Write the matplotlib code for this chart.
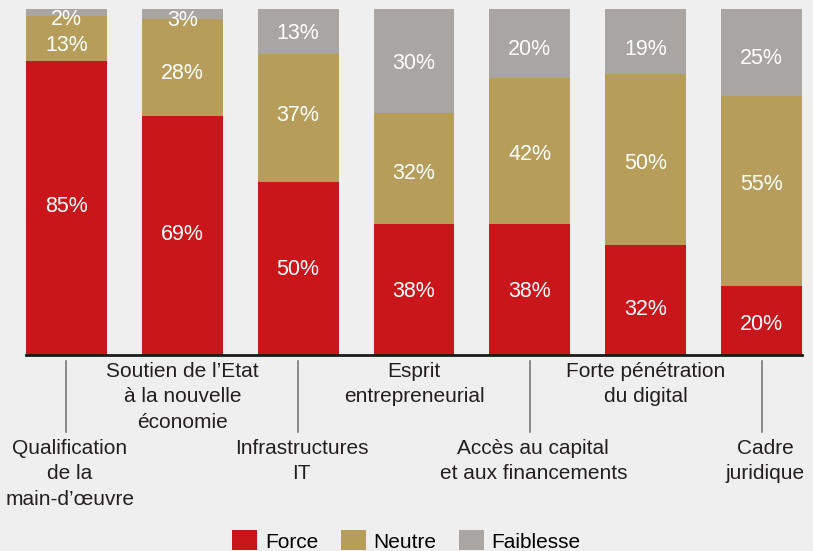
import numpy as np
import matplotlib.pyplot as plt
from matplotlib.patches import Patch

plt.rcParams['font.family'] = ['Liberation Sans', 'DejaVu Sans']

categories = ["Qualification\nde la\nmain-d\u2019\u0153uvre",
              "Soutien de l\u2019Etat\n\u00e0 la nouvelle\n\u00e9conomie",
              "Infrastructures\nIT",
              "Esprit\nentrepreneurial",
              "Acc\u00e8s au capital\net aux financements",
              "Forte p\u00e9n\u00e9tration\ndu digital",
              "Cadre\njuridique"]
force = [85, 69, 50, 38, 38, 32, 20]
neutre = [13, 28, 37, 32, 42, 50, 55]
faiblesse = [2, 3, 13, 30, 20, 19, 25]

series = [("Force", force, "#c8161a"),
          ("Neutre", neutre, "#b69e5a"),
          ("Faiblesse", faiblesse, "#a9a5a2")]
bg = "#efefef"

# small vertical nudges of the value labels, in pixels (down is positive)
nudge_px = {"Force":     [-4, -3.5, -1.5, 0, 0, 6.5, 1.5],
            "Neutre":    [5, 3.5, -4.5, 2.5, 1, 1.5, -9],
            "Faiblesse": [5, 4, 0, 0, 3.5, 5, 3.5]}

fig = plt.figure(figsize=(8.13, 5.51), dpi=100, facecolor=bg)
ax = fig.add_axes([26/813, 1-355/551, (802-26)/813, (355-9)/551])
ax.set_facecolor(bg)
px = 100 / 346  # data units per pixel

x = np.arange(len(categories))
w = 0.699
total = np.array(force) + np.array(neutre) + np.array(faiblesse)
bottom = np.zeros(len(categories))
for name, vals, col in series:
    h = np.array(vals, dtype=float) / total * 100
    ax.bar(x, h, w, bottom=bottom, color=col, label=name)
    for xi, b, hh, v, n in zip(x, bottom, h, vals, nudge_px[name]):
        ax.text(xi, b + hh / 2 - n * px, f"{v}%", ha='center',
                va='center_baseline', color='white', fontsize=15.5,
                clip_on=False)
    bottom += h

ax.set_xlim(-w/2, len(categories) - 1 + w/2)
ax.set_ylim(0, 100)
for s in ['top', 'right', 'left']:
    ax.spines[s].set_visible(False)
ax.spines['bottom'].set_linewidth(2)
ax.spines['bottom'].set_color('#1a1a1a')
ax.set_xticks([])
ax.set_yticks([])

# category labels, alternating low / high with leader lines
for i, lab in enumerate(categories):
    if i % 2 == 0:
        ax.plot([i, i], [-1.7, -22.3], color='#777777', lw=1.2, clip_on=False)
        ax.text(i + 0.03, -24.3, lab, ha='center', va='top', fontsize=15,
                color='#231f20', linespacing=1.42, clip_on=False)
    else:
        ax.text(i, -2.0, lab, ha='center', va='top', fontsize=15,
                color='#231f20', linespacing=1.42, clip_on=False)

handles = [Patch(facecolor=c, edgecolor='none') for _, _, c in series]
fig.legend(handles, [n for n, _, _ in series], loc='center',
           bbox_to_anchor=(0.5, 1 - 541/551), ncol=3, frameon=False,
           fontsize=15, handlelength=1.2, handleheight=1.1,
           handletextpad=0.35, columnspacing=1.1)

fig.savefig("out.png", dpi=100, facecolor=bg)
